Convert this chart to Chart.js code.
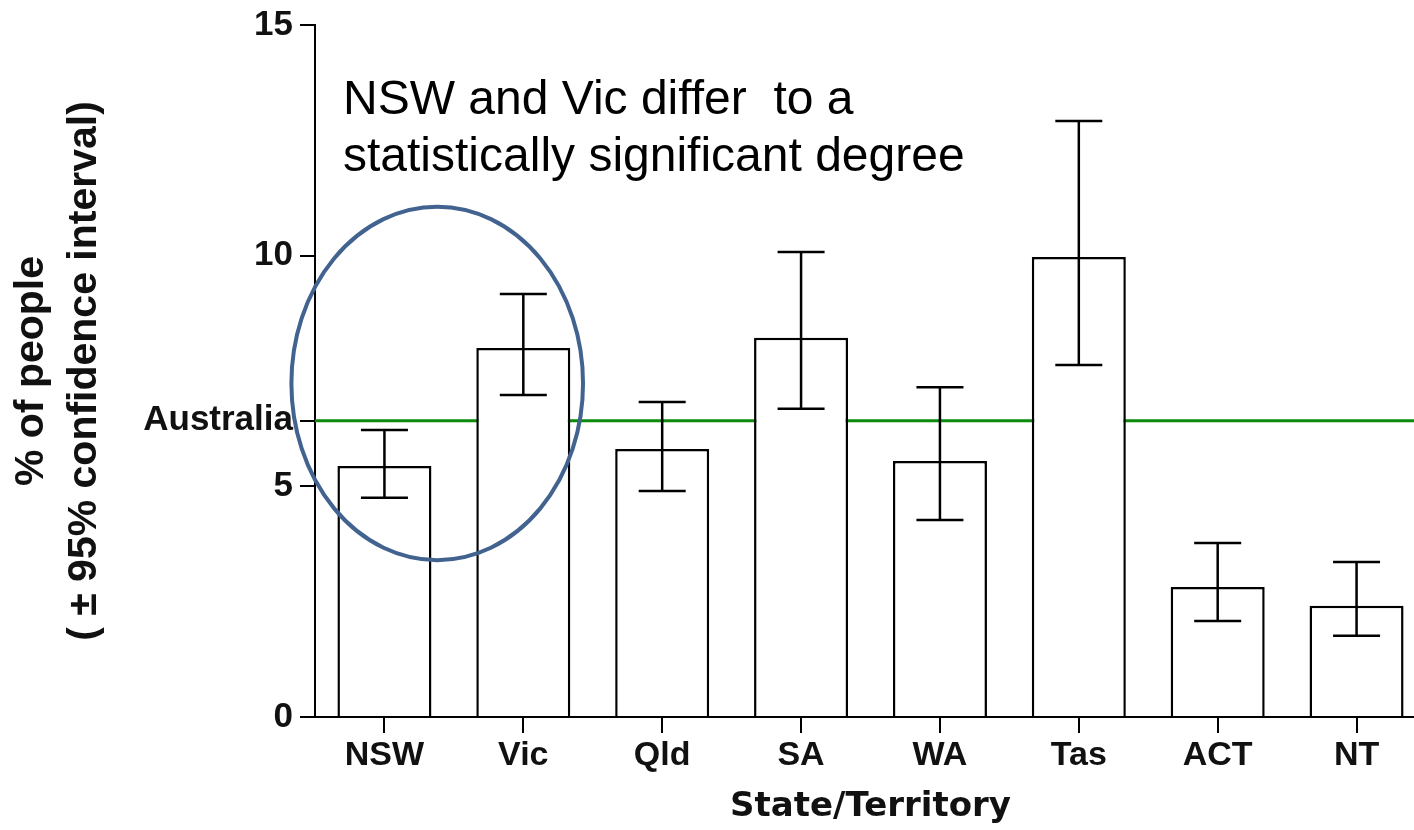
<!DOCTYPE html>
<html>
<head>
<meta charset="utf-8">
<script src="https://cdn.jsdelivr.net/npm/chart.js@4.4.1/dist/chart.umd.min.js"></script>
<style>
html,body{margin:0;padding:0;overflow:hidden;background:#fff;}
#wrap{width:1440px;height:830px;}
</style>
</head>
<body>
<div id="wrap"><canvas id="c" width="1440" height="830"></canvas></div>
<script>
// ---- data ----
const categories = ['NSW', 'Vic', 'Qld', 'SA', 'WA', 'Tas', 'ACT', 'NT'];
const percentValues = [5.44, 8.00, 5.81, 8.22, 5.55, 9.97, 2.82, 2.41];
const ciUpper = [6.22, 9.17, 6.83, 10.08, 7.15, 12.92, 3.77, 3.36];
const ciLower = [4.75, 6.98, 4.90, 6.68, 4.27, 7.63, 2.08, 1.76];
const australiaValue = 6.42;
const australiaLabel = 'Australia';
const yTickValues = [0, 5, 10, 15];
const yTitleLines = ['% of people', '( \u00B1 95% confidence interval)'];
const xTitle = 'State/Territory';
const noteLines = ['NSW and Vic differ  to a', 'statistically significant degree'];

// annotation ellipse around NSW & Vic (in category-index / value units)
const ellipseSpec = { cx: 0.38, cy: 7.23, rx: 1.05, ry: 3.83 };

const overlayPlugin = {
  id: 'overlay',
  beforeDatasetsDraw(chart) {
    const { ctx, chartArea, scales: { y } } = chart;
    const py = y.getPixelForValue(australiaValue);
    ctx.save();
    ctx.strokeStyle = '#0b8a0b';
    ctx.lineWidth = 3;
    ctx.beginPath();
    ctx.moveTo(chartArea.left, py);
    ctx.lineTo(chartArea.right, py);
    ctx.stroke();
    ctx.restore();
  },
  afterDatasetsDraw(chart) {
    const { ctx, chartArea, scales: { x, y } } = chart;
    const meta = chart.getDatasetMeta(0);
    ctx.save();
    // error bars
    ctx.strokeStyle = '#000';
    ctx.lineWidth = 2.5;
    meta.data.forEach((bar, i) => {
      const cx = bar.x;
      const half = bar.width * 0.25;
      const yu = y.getPixelForValue(ciUpper[i]);
      const yl = y.getPixelForValue(ciLower[i]);
      ctx.beginPath();
      ctx.moveTo(cx, yu); ctx.lineTo(cx, yl);
      ctx.moveTo(cx - half, yu); ctx.lineTo(cx + half, yu);
      ctx.moveTo(cx - half, yl); ctx.lineTo(cx + half, yl);
      ctx.stroke();
    });
    // ellipse
    const ex = x.getPixelForValue(ellipseSpec.cx);
    const ey = y.getPixelForValue(ellipseSpec.cy);
    const erx = x.getPixelForValue(ellipseSpec.cx + ellipseSpec.rx) - ex;
    const ery = ey - y.getPixelForValue(ellipseSpec.cy + ellipseSpec.ry);
    ctx.strokeStyle = '#42628f';
    ctx.lineWidth = 4;
    ctx.beginPath();
    ctx.ellipse(ex, ey, erx, ery, 0, 0, Math.PI * 2);
    ctx.stroke();
    // note text
    ctx.fillStyle = '#000';
    ctx.font = '48px "Liberation Sans", Arial, sans-serif';
    ctx.textAlign = 'left';
    ctx.textBaseline = 'middle';
    ctx.fillText(noteLines[0], chartArea.left + 28, 101);
    ctx.fillText(noteLines[1], chartArea.left + 28, 158);
    ctx.restore();
  }
};

new Chart(document.getElementById('c'), {
  type: 'bar',
  data: {
    labels: categories,
    datasets: [{
      data: percentValues,
      backgroundColor: '#ffffff',
      borderColor: '#000000',
      borderWidth: 2.5,
      barPercentage: 0.677,
      categoryPercentage: 1.0
    }]
  },
  options: {
    responsive: false,
    devicePixelRatio: 1,
    animation: false,
    layout: { padding: { top: 25, right: 14, left: 0, bottom: 0 } },
    plugins: { legend: { display: false }, tooltip: { enabled: false } },
    scales: {
      x: {
        type: 'category',
        offset: true,
        grid: { offset: false, drawOnChartArea: false, drawTicks: true, tickLength: 16, color: '#000', lineWidth: 2 },
        border: { display: true, color: '#000', width: 2 },
        ticks: { color: '#111', padding: 2, font: { family: '"Liberation Sans", Arial, sans-serif', size: 34, weight: 'bold' } },
        title: { display: true, text: xTitle, color: '#111', padding: { top: 0, bottom: 2 },
                 font: { family: '"DejaVu Sans", Verdana, sans-serif', size: 34, weight: 'bold' } },
        afterFit(scale) { scale.height = 113; scale.paddingLeft = 0; scale.paddingRight = 0; }
      },
      y: {
        min: 0, max: 15,
        afterBuildTicks(scale) {
          scale.ticks = [...yTickValues, australiaValue].map(v => ({ value: v }));
        },
        grid: { drawOnChartArea: false, drawTicks: true, tickLength: 15, color: '#000', lineWidth: 2 },
        border: { display: true, color: '#000', width: 2 },
        ticks: {
          color: '#111', padding: 7, autoSkip: false,
          callback: (v) => v === australiaValue ? australiaLabel : String(v),
          font: { family: '"Liberation Sans", Arial, sans-serif', size: 35, weight: 'bold' }
        },
        title: { display: true, text: yTitleLines, color: '#111', padding: { top: 5, bottom: 0 },
                 font: { family: '"Liberation Sans", Arial, sans-serif', size: 41, weight: 'bold', lineHeight: 1.3 } },
        afterFit(scale) { scale.width = 315; scale.paddingTop = 0; scale.paddingBottom = 0; }
      }
    }
  },
  plugins: [overlayPlugin]
});
</script>
</body>
</html>
